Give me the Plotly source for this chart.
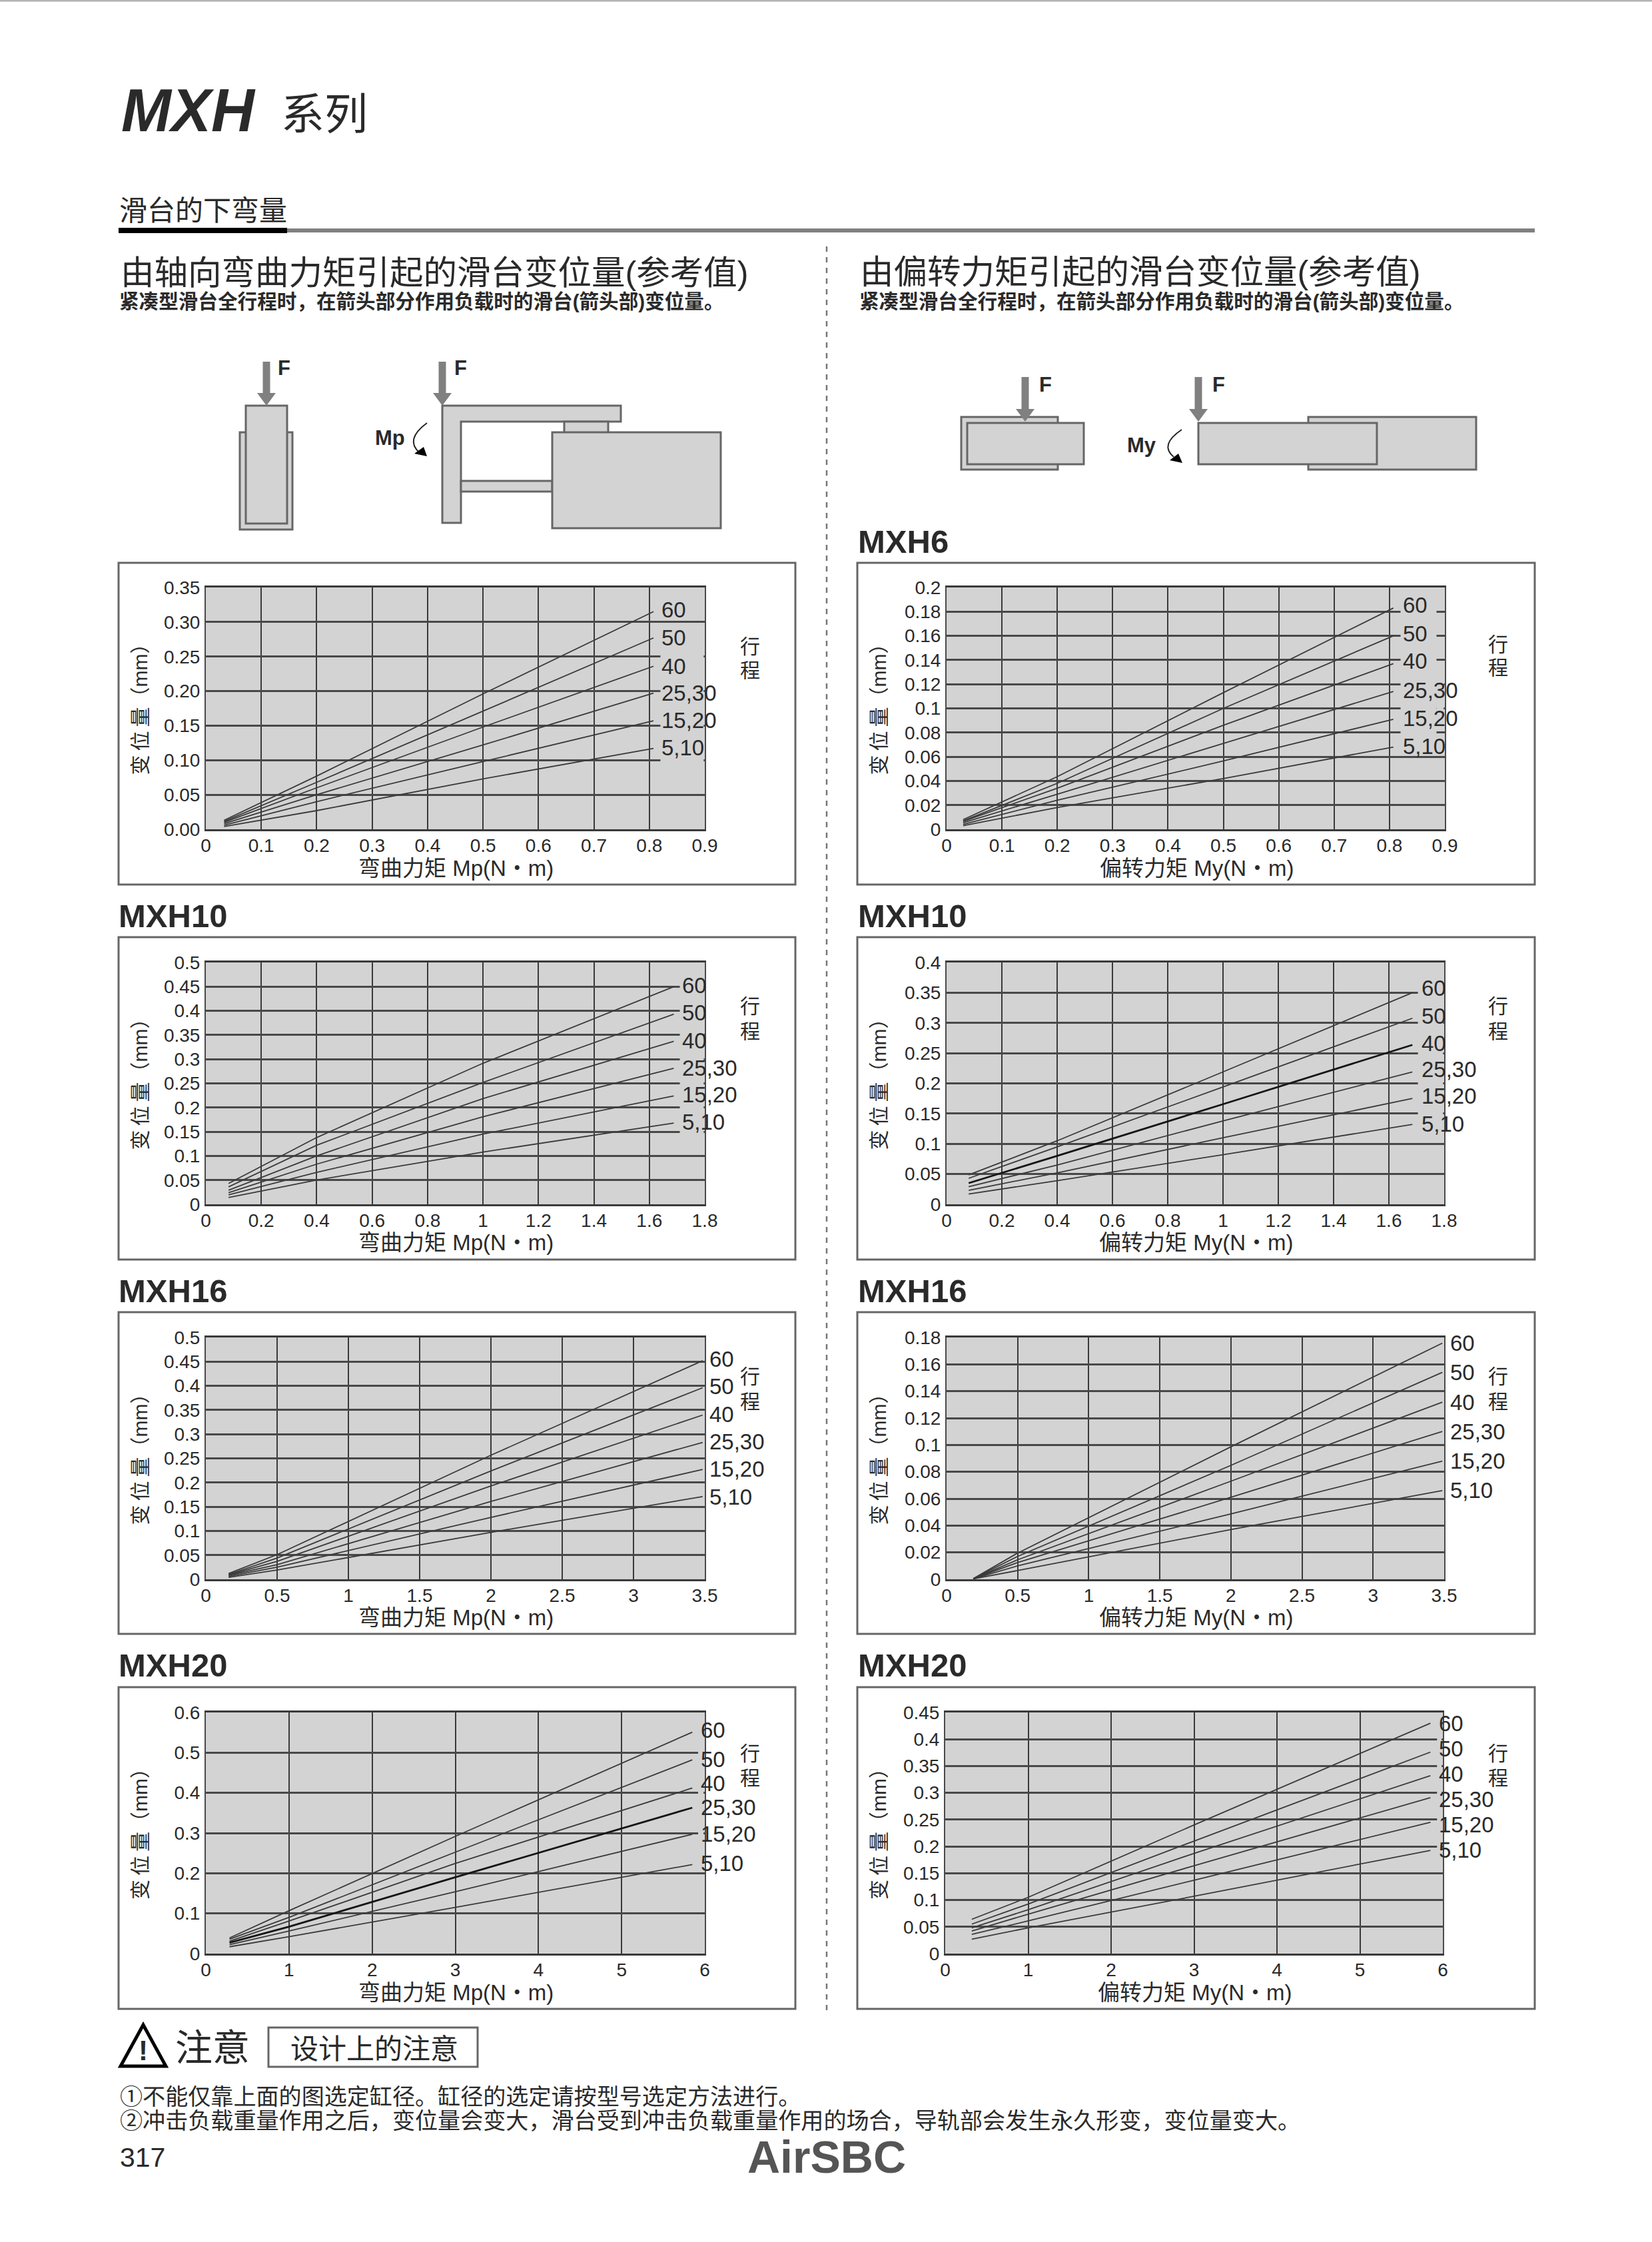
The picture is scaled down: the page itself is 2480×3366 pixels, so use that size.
"""Redraw of the MXH slide table deflection page: eight charts plus the page furniture."""

import plotly.graph_objects as go

PAGE_W = 2480
PAGE_H = 3366
FONT = "Liberation Sans, Noto Sans CJK SC"
CJK = "Noto Sans CJK SC, Liberation Sans"
PLOT_BG = "#d3d3d3"
INK = "#2a2a2a"
EDGE = "#666666"

STROKES = ["60", "50", "40", "25,30", "15,20", "5,10"]
MP_TITLE = "弯曲力矩 Mp(N・m)"
MY_TITLE = "偏转力矩 My(N・m)"

# values, one row per stroke label
MXH6_MP_X = [0.033, 0.2, 0.5, 0.8075]
MXH6_MP_Y = [
    [0.013, 0.077, 0.196, 0.315],
    [0.0115, 0.068, 0.171, 0.277],
    [0.010, 0.060, 0.148, 0.236],
    [0.008, 0.050, 0.122, 0.197],
    [0.006, 0.040, 0.098, 0.157],
    [0.004, 0.027, 0.073, 0.117],
]
MXH6_MP_LABEL_Y = [0.3175, 0.2772, 0.2354, 0.1972, 0.1573, 0.1177]
MXH6_MP_XTICKS = ["0", "0.1", "0.2", "0.3", "0.4", "0.5", "0.6", "0.7", "0.8", "0.9"]
MXH6_MP_YTICKS = ["0.00", "0.05", "0.10", "0.15", "0.20", "0.25", "0.30", "0.35"]

MXH6_MY_X = [0.03, 0.2, 0.5, 0.807]
MXH6_MY_Y = [
    [0.008, 0.0435, 0.113, 0.183],
    [0.007, 0.038, 0.100, 0.160],
    [0.0065, 0.034, 0.086, 0.137],
    [0.0055, 0.029, 0.071, 0.114],
    [0.004, 0.024, 0.0565, 0.091],
    [0.003, 0.018, 0.042, 0.068],
]
MXH6_MY_LABEL_Y = [0.1855, 0.1618, 0.1389, 0.1148, 0.0919, 0.0686]
MXH6_MY_XTICKS = ["0", "0.1", "0.2", "0.3", "0.4", "0.5", "0.6", "0.7", "0.8", "0.9"]
MXH6_MY_YTICKS = ["0", "0.02", "0.04", "0.06", "0.08", "0.1", "0.12", "0.14", "0.16", "0.18", "0.2"]

MXH10_MP_X = [0.082, 0.4, 1.0, 1.688]
MXH10_MP_Y = [
    [0.043, 0.138, 0.2916, 0.45],
    [0.036, 0.122, 0.252, 0.393],
    [0.029, 0.100, 0.2186, 0.337],
    [0.024, 0.083, 0.181, 0.281],
    [0.0195, 0.066, 0.145, 0.224],
    [0.014, 0.050, 0.108, 0.168],
]
MXH10_MP_LABEL_Y = [0.452, 0.396, 0.338, 0.281, 0.226, 0.170]
MXH10_MP_XTICKS = ["0", "0.2", "0.4", "0.6", "0.8", "1", "1.2", "1.4", "1.6", "1.8"]
MXH10_MP_YTICKS = ["0", "0.05", "0.1", "0.15", "0.2", "0.25", "0.3", "0.35", "0.4", "0.45", "0.5"]

MXH10_MY_X = [0.08, 0.4, 1.0, 1.685]
MXH10_MY_Y = [
    [0.0486, 0.105, 0.219, 0.350],
    [0.043, 0.095, 0.194, 0.3077],
    [0.035, 0.080, 0.1656, 0.2636],
    [0.029, 0.065, 0.138, 0.219],
    [0.023, 0.052, 0.110, 0.175],
    [0.017, 0.039, 0.082, 0.132],
]
MXH10_MY_LABEL_Y = [0.358, 0.311, 0.2664, 0.2232, 0.179, 0.1327]
MXH10_MY_XTICKS = ["0", "0.2", "0.4", "0.6", "0.8", "1", "1.2", "1.4", "1.6", "1.8"]
MXH10_MY_YTICKS = ["0", "0.05", "0.1", "0.15", "0.2", "0.25", "0.3", "0.35", "0.4"]

MXH16_MP_X = [0.16, 0.5, 2.0, 3.485]
MXH16_MP_Y = [
    [0.012, 0.051, 0.2565, 0.452],
    [0.010, 0.044, 0.224, 0.396],
    [0.009, 0.037, 0.193, 0.3395],
    [0.008, 0.030, 0.161, 0.283],
    [0.006, 0.025, 0.128, 0.227],
    [0.004, 0.019, 0.097, 0.171],
]
MXH16_MP_LABEL_Y = [0.455, 0.399, 0.3405, 0.284, 0.2285, 0.1705]
MXH16_MP_XTICKS = ["0", "0.5", "1", "1.5", "2", "2.5", "3", "3.5"]
MXH16_MP_YTICKS = ["0", "0.05", "0.1", "0.15", "0.2", "0.25", "0.3", "0.35", "0.4", "0.45", "0.5"]

MXH16_MY_X = [0.188, 0.5, 2.0, 3.487]
MXH16_MY_Y = [
    [0.0005, 0.0195, 0.0986, 0.1758],
    [0.0005, 0.017, 0.0848, 0.154],
    [0.0004, 0.0145, 0.073, 0.1318],
    [0.0004, 0.0125, 0.061, 0.110],
    [0.0003, 0.010, 0.0487, 0.088],
    [0.0003, 0.0065, 0.037, 0.066],
]
MXH16_MY_LABEL_Y = [0.1758, 0.154, 0.1318, 0.110, 0.088, 0.0663]
MXH16_MY_XTICKS = ["0", "0.5", "1", "1.5", "2", "2.5", "3", "3.5"]
MXH16_MY_YTICKS = ["0", "0.02", "0.04", "0.06", "0.08", "0.1", "0.12", "0.14", "0.16", "0.18"]

MXH20_MP_X = [0.285, 1.0, 3.0, 5.85]
MXH20_MP_Y = [
    [0.039, 0.1066, 0.2917, 0.551],
    [0.036, 0.090, 0.2524, 0.482],
    [0.031, 0.081, 0.2243, 0.412],
    [0.027, 0.067, 0.190, 0.363],
    [0.022, 0.056, 0.154, 0.297],
    [0.017, 0.042, 0.115, 0.2215],
]
MXH20_MP_LABEL_Y = [0.556, 0.483, 0.423, 0.3634, 0.297, 0.224]
MXH20_MP_XTICKS = ["0", "1", "2", "3", "4", "5", "6"]
MXH20_MP_YTICKS = ["0", "0.1", "0.2", "0.3", "0.4", "0.5", "0.6"]

MXH20_MY_X = [0.32, 1.0, 3.0, 5.85]
MXH20_MY_Y = [
    [0.064, 0.105, 0.240, 0.430],
    [0.055, 0.0925, 0.210, 0.376],
    [0.048, 0.082, 0.187, 0.332],
    [0.042, 0.0736, 0.164, 0.291],
    [0.036, 0.061, 0.137, 0.245],
    [0.027, 0.048, 0.107, 0.1926],
]
MXH20_MY_LABEL_Y = [0.430, 0.3827, 0.335, 0.288, 0.240, 0.1935]
MXH20_MY_XTICKS = ["0", "1", "2", "3", "4", "5", "6"]
MXH20_MY_YTICKS = ["0", "0.05", "0.1", "0.15", "0.2", "0.25", "0.3", "0.35", "0.4", "0.45"]

# frame: left, top, right, bottom; plot: left, top, right, bottom (page pixels)
# label_x is in axis units, gaps are where the grey patch hides the grid behind the labels
PANELS = [
    dict(x=MXH6_MP_X, y=MXH6_MP_Y, label_y=MXH6_MP_LABEL_Y, xticks=MXH6_MP_XTICKS, yticks=MXH6_MP_YTICKS,
         frame=(178, 845, 1194, 1328), plot=(309, 882, 1058, 1245), title=MP_TITLE, label_x=0.820,
         gaps=[(0.82, 0.898, 0.08, 0.28)], stroke_x=1126, stroke_y=(968, 1004), heavy=None),
    dict(x=MXH6_MY_X, y=MXH6_MY_Y, label_y=MXH6_MY_LABEL_Y, xticks=MXH6_MY_XTICKS, yticks=MXH6_MY_YTICKS,
         frame=(1287, 845, 2304, 1328), plot=(1421, 882, 2169, 1245), title=MY_TITLE, label_x=0.822,
         gaps=[(0.82, 0.885, 0.07, 0.195), (0.885, 0.898, 0.095, 0.125)], stroke_x=2249, stroke_y=(965, 1000), heavy=None),
    dict(x=MXH10_MP_X, y=MXH10_MP_Y, label_y=MXH10_MP_LABEL_Y, xticks=MXH10_MP_XTICKS, yticks=MXH10_MP_YTICKS,
         frame=(178, 1407, 1194, 1891), plot=(309, 1445, 1058, 1808), title=MP_TITLE, label_x=1.713,
         gaps=[(1.71, 1.796, 0.12, 0.47)], stroke_x=1126, stroke_y=(1508, 1546), heavy=None),
    dict(x=MXH10_MY_X, y=MXH10_MY_Y, label_y=MXH10_MY_LABEL_Y, xticks=MXH10_MY_XTICKS, yticks=MXH10_MY_YTICKS,
         frame=(1287, 1407, 2304, 1891), plot=(1421, 1445, 2168, 1808), title=MY_TITLE, label_x=1.714,
         gaps=[(1.705, 1.796, 0.125, 0.375)], stroke_x=2249, stroke_y=(1508, 1546), heavy=2),
    dict(x=MXH16_MP_X, y=MXH16_MP_Y, label_y=MXH16_MP_LABEL_Y, xticks=MXH16_MP_XTICKS, yticks=MXH16_MP_YTICKS,
         frame=(178, 1970, 1194, 2453), plot=(309, 2008, 1058, 2371), title=MP_TITLE, label_x=3.525,
         gaps=[], stroke_x=1126, stroke_y=(2064, 2102), heavy=None),
    dict(x=MXH16_MY_X, y=MXH16_MY_Y, label_y=MXH16_MY_LABEL_Y, xticks=MXH16_MY_XTICKS, yticks=MXH16_MY_YTICKS,
         frame=(1287, 1970, 2304, 2453), plot=(1421, 2008, 2168, 2371), title=MY_TITLE, label_x=3.532,
         gaps=[], stroke_x=2249, stroke_y=(2064, 2102), heavy=None),
    dict(x=MXH20_MP_X, y=MXH20_MP_Y, label_y=MXH20_MP_LABEL_Y, xticks=MXH20_MP_XTICKS, yticks=MXH20_MP_YTICKS,
         frame=(178, 2533, 1194, 3016), plot=(309, 2571, 1058, 2933), title=MP_TITLE, label_x=5.935,
         gaps=[(5.92, 5.985, 0.25, 0.55)], stroke_x=1126, stroke_y=(2630, 2667), heavy=3),
    dict(x=MXH20_MY_X, y=MXH20_MY_Y, label_y=MXH20_MY_LABEL_Y, xticks=MXH20_MY_XTICKS, yticks=MXH20_MY_YTICKS,
         frame=(1287, 2533, 2304, 3016), plot=(1419, 2571, 2166, 2933), title=MY_TITLE, label_x=5.935,
         gaps=[(5.93, 5.985, 0.175, 0.425)], stroke_x=2249, stroke_y=(2630, 2667), heavy=None),
]

HEADERS = [
    ("MXH6", 1286, 813),
    ("MXH10", 176, 1375),
    ("MXH10", 1286, 1375),
    ("MXH16", 176, 1938),
    ("MXH16", 1286, 1938),
    ("MXH20", 176, 2500),
    ("MXH20", 1286, 2500),
]

SUBTITLE = "紧凑型滑台全行程时，在箭头部分作用负载时的滑台(箭头部)变位量。"
NOTE_1 = "①不能仅靠上面的图选定缸径。缸径的选定请按型号选定方法进行。"
NOTE_2 = "②冲击负载重量作用之后，变位量会变大，滑台受到冲击负载重量作用的场合，导轨部会发生永久形变，变位量变大。"


def px(x):
    return x / PAGE_W


def py(y):
    return 1 - y / PAGE_H


def page_text(fig, text, x, y, size, anchor="left", family=FONT, color=INK, angle=0):
    fig.add_annotation(
        text=text, x=px(x), y=py(y), xref="paper", yref="paper", xanchor=anchor, yanchor="middle",
        showarrow=False, textangle=angle, font=dict(family=family, size=size, color=color),
    )


def page_rect(fig, x0, y0, x1, y1, fill=PLOT_BG, line=EDGE, width=3):
    fig.add_shape(
        type="rect", xref="paper", yref="paper", x0=px(x0), x1=px(x1), y0=py(y0), y1=py(y1),
        fillcolor=fill, line=dict(color=line, width=width), layer="above",
    )


def page_path(fig, points, fill=None, line="rgba(0,0,0,0)", width=0, close=True, smooth=False):
    if smooth:
        (ax, ay), (bx, by), (cx, cy) = points
        path = f"M {px(ax)} {py(ay)} Q {px(bx)} {py(by)} {px(cx)} {py(cy)}"
    else:
        path = "M " + " L ".join(f"{px(a)} {py(b)}" for a, b in points) + (" Z" if close else "")
    fig.add_shape(
        type="path", xref="paper", yref="paper", path=path, layer="above",
        fillcolor=fill if fill else "rgba(0,0,0,0)", line=dict(color=line, width=width),
    )


def force_arrow(fig, cx, top, shaft_bottom, tip, half_head):
    page_rect(fig, cx - 5.5, top, cx + 5.5, shaft_bottom, fill="#808080", line="#808080", width=0)
    page_path(fig, [(cx - half_head, shaft_bottom), (cx + half_head, shaft_bottom), (cx, tip)], fill="#808080")


def add_panel(fig, number, panel):
    suffix = "" if number == 1 else str(number)
    left, top, right, bottom = panel["plot"]
    xvals = [float(t) for t in panel["xticks"]]
    yvals = [float(t) for t in panel["yticks"]]
    for row, label in enumerate(STROKES):
        heavy = panel["heavy"] == row
        fig.add_trace(go.Scatter(
            x=panel["x"], y=panel["y"][row], mode="lines", name=label, showlegend=False,
            xaxis=f"x{suffix}", yaxis=f"y{suffix}",
            line=dict(color="#151515" if heavy else "#3a3a3a", width=2.8 if heavy else 1.8),
        ))
    axis_font = dict(family=FONT, size=28, color=INK)
    fig.update_layout({
        f"xaxis{suffix}": dict(
            domain=[px(left), px(right)], anchor=f"y{suffix}", range=[xvals[0], xvals[-1]],
            tickmode="array", tickvals=xvals, ticktext=panel["xticks"], tickfont=axis_font,
            ticks="", ticklabelstandoff=-3, tickangle=0,
            showgrid=True, gridcolor="#3a3a3a", gridwidth=2, zeroline=False,
            showline=True, linecolor="#3a3a3a", linewidth=3, mirror=True,
        ),
        f"yaxis{suffix}": dict(
            domain=[py(bottom), py(top)], anchor=f"x{suffix}", range=[yvals[0], yvals[-1]],
            tickmode="array", tickvals=yvals, ticktext=panel["yticks"], tickfont=axis_font,
            ticks="outside", ticklen=1, tickcolor="rgba(0,0,0,0)",
            showgrid=True, gridcolor="#484848", gridwidth=3, zeroline=False,
            showline=True, linecolor="#4a4a4a", linewidth=2, mirror=True,
        ),
    })
    for x0, x1, y0, y1 in panel["gaps"]:
        fig.add_shape(
            type="rect", xref=f"x{suffix}", yref=f"y{suffix}", x0=x0, x1=x1, y0=y0, y1=y1,
            fillcolor=PLOT_BG, line=dict(width=0), layer="above",
        )
    # labels can sit past the axis end, so their x goes through the page and not the axis
    label_page_x = left + panel["label_x"] / xvals[-1] * (right - left)
    for label, label_y in zip(STROKES, panel["label_y"]):
        fig.add_annotation(
            text=label, x=px(label_page_x), y=label_y, xref="paper", yref=f"y{suffix}",
            xanchor="left", yanchor="middle", showarrow=False, font=dict(family=FONT, size=33, color=INK),
        )
    f_left, f_top, f_right, f_bottom = panel["frame"]
    page_rect(fig, f_left, f_top, f_right, f_bottom, fill="rgba(0,0,0,0)", line=EDGE, width=3)
    page_text(fig, panel["title"], (left + right) / 2 + 1, f_bottom - 25, 33, anchor="center")
    page_text(fig, "变\u2009位\u2009量（mm）", f_left + 32, (top + bottom) / 2 - 6, 30, anchor="center", angle=-90)
    for char, char_y in zip("行程", panel["stroke_y"]):
        page_text(fig, char, panel["stroke_x"], char_y, 30, anchor="center", family=CJK)


def add_page_furniture(fig):
    page_rect(fig, 0, 0, PAGE_W, 2.5, fill="#b4b4b4", line="#b4b4b4", width=0)
    page_text(fig, "<b><i>MXH</i></b>", 180, 166, 90)
    page_text(fig, "系列", 420, 166, 65, family=CJK)
    page_text(fig, "滑台的下弯量", 177, 313, 42, family=CJK)
    page_rect(fig, 178, 342, 431, 350, fill="#000000", line="#000000", width=0)
    page_rect(fig, 431, 343, 2304, 349, fill="#808080", line="#808080", width=0)
    page_text(fig, "由轴向弯曲力矩引起的滑台变位量(参考值)", 179, 409, 50.5)
    page_text(fig, "由偏转力矩引起的滑台变位量(参考值)", 1289, 408, 50.5)
    page_text(fig, f"<b>{SUBTITLE}</b>", 177, 452, 29.6)
    page_text(fig, f"<b>{SUBTITLE}</b>", 1288, 452, 29.6)
    fig.add_shape(
        type="line", xref="paper", yref="paper", x0=px(1241), x1=px(1241), y0=py(370), y1=py(3025),
        line=dict(color="#777777", width=2.5, dash="8px,8px"),
    )
    for title, x, y in HEADERS:
        page_text(fig, f"<b>{title}</b>", x, y, 49)

    # side view, pitch moment
    page_rect(fig, 360, 649, 439, 795)
    page_rect(fig, 369, 609, 431, 786)
    force_arrow(fig, 400, 543, 590, 609, 14)
    page_text(fig, "<b>F</b>", 415, 553, 31)
    page_path(fig, [(664, 609), (932, 609), (932, 633), (692, 633), (692, 785), (664, 785)],
              fill=PLOT_BG, line=EDGE, width=3)
    page_rect(fig, 847, 633, 913, 650)
    page_rect(fig, 692, 722, 829, 738)
    page_rect(fig, 829, 649, 1082, 793)
    force_arrow(fig, 664, 543, 590, 609, 14)
    page_text(fig, "<b>F</b>", 680, 553, 31)
    page_text(fig, "<b>Mp</b>", 585, 657, 31, anchor="center")
    page_path(fig, [(641, 635), (607, 660), (630, 680)], line="#222222", width=2, smooth=True)
    page_path(fig, [(641, 685), (622, 681), (636, 671)], fill="#000000")

    # top view, yaw moment
    page_rect(fig, 1443, 626, 1588, 705)
    page_rect(fig, 1452, 635, 1627, 697)
    force_arrow(fig, 1539, 566, 614, 633, 14)
    page_text(fig, "<b>F</b>", 1558, 577, 31)
    page_rect(fig, 1964, 626, 2216, 705)
    page_rect(fig, 1799, 635, 2067, 697)
    force_arrow(fig, 1799, 566, 614, 633, 14)
    page_text(fig, "<b>F</b>", 1818, 577, 31)
    page_text(fig, "<b>My</b>", 1714, 668, 31, anchor="center")
    page_path(fig, [(1774, 645), (1740, 668), (1762, 686)], line="#222222", width=2, smooth=True)
    page_path(fig, [(1775, 695), (1756, 691), (1769, 681)], fill="#000000")

    # caution block
    page_path(fig, [(215, 3040), (249, 3102), (181, 3102)], line="#000000", width=5)
    page_text(fig, "<b>!</b>", 215, 3078, 42, anchor="center")
    page_text(fig, "注意", 261, 3069, 56, family=CJK)
    page_rect(fig, 403, 3044, 717, 3103, fill="#ffffff", line=EDGE, width=3)
    page_text(fig, "设计上的注意", 434, 3072, 42, family=CJK)
    page_text(fig, NOTE_1, 178, 3145, 34.1, family=CJK)
    page_text(fig, NOTE_2, 178, 3181, 34.1, family=CJK)
    page_text(fig, "317", 178, 3239, 41)
    page_text(fig, "<b>AirSBC</b>", 1241, 3238, 68, anchor="center", color="#555555")


def build_figure():
    fig = go.Figure()
    for number, panel in enumerate(PANELS, start=1):
        add_panel(fig, number, panel)
    add_page_furniture(fig)
    fig.update_layout(
        width=PAGE_W, height=PAGE_H, autosize=False,
        margin=dict(l=0, r=0, t=0, b=0, pad=0, autoexpand=False),
        paper_bgcolor="#ffffff", plot_bgcolor=PLOT_BG, showlegend=False,
        font=dict(family=FONT, color=INK),
    )
    return fig


fig = build_figure()
fig.write_html(
    "out.html",
    config={"displayModeBar": False},
    post_script="document.documentElement.style.margin='0';document.body.style.margin='0';",
)
